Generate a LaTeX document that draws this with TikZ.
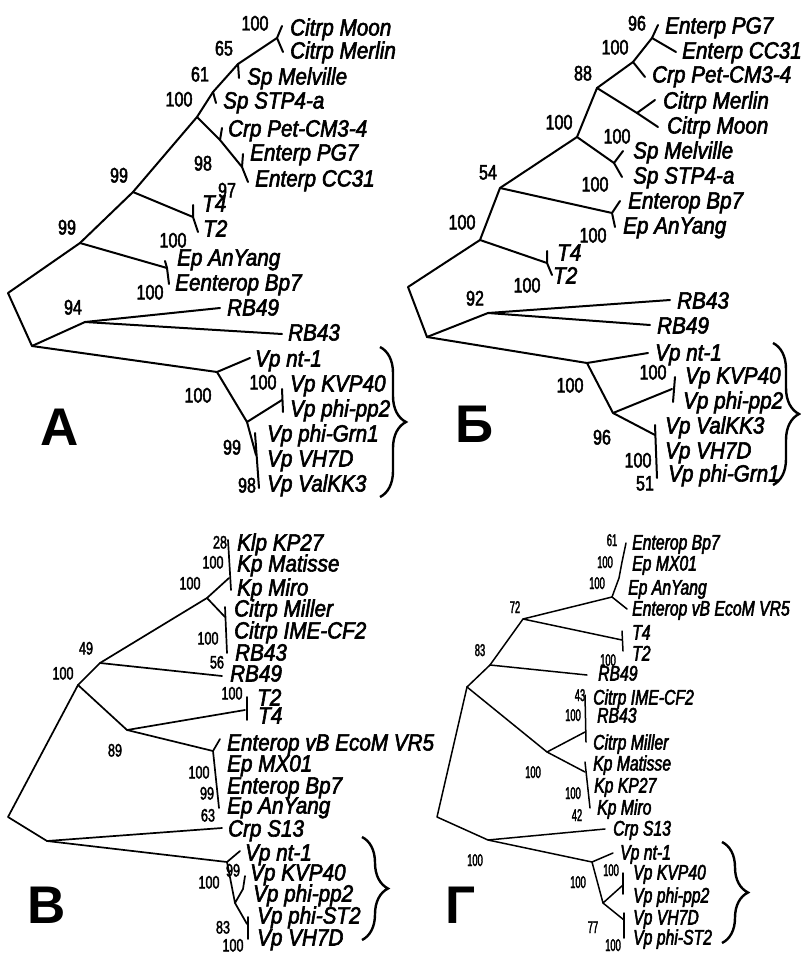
\documentclass[tikz,border=0pt]{standalone}
\usepackage{fontspec}
\usetikzlibrary{decorations.pathreplacing}
\newfontfamily\labfont[FakeStretch=0.88,FakeBold=2.5]{Liberation Sans}
\newfontfamily\labfontg[FakeStretch=0.75,FakeBold=2.5]{Liberation Sans}
\newfontfamily\numfonta[FakeStretch=0.77,FakeBold=2.2]{Liberation Sans}
\newfontfamily\numfontb[FakeStretch=0.7,FakeBold=2]{Liberation Sans}
\newfontfamily\numfontg[FakeStretch=0.55,FakeBold=2]{Liberation Sans}
\newfontfamily\ttlfont{Liberation Sans}
\tikzset{
  tree/.style={line width=2pt, line join=round, line cap=round},
  treeb/.style={line width=1.7pt, line join=round, line cap=round},
  treeg/.style={line width=1.5pt, line join=round, line cap=round},
  taxon/.style={font=\labfont\fontsize{23.5}{24}\selectfont\itshape, anchor=west, inner sep=0pt, text height=17pt, text depth=0pt},
  taxong/.style={font=\labfontg\fontsize{21}{21}\selectfont\itshape, anchor=west, inner sep=0pt, text height=15pt, text depth=0pt},
  bsa/.style={font=\numfonta\fontsize{21}{21}\selectfont, inner sep=0pt, text height=15pt, text depth=0pt},
  bsb/.style={font=\numfontb\fontsize{18}{18}\selectfont, inner sep=0pt, text height=13pt, text depth=0pt},
  bsg/.style={font=\numfontg\fontsize{17}{17}\selectfont, inner sep=0pt, text height=12pt, text depth=0pt},
  panel/.style={font=\ttlfont\bfseries\fontsize{53}{53}\selectfont, inner sep=0pt, text height=38pt, text depth=0pt},
  clade/.style={decorate, decoration={brace, amplitude=26pt}, line width=2.4pt},
}
\begin{document}
\begin{tikzpicture}[x=1pt, y=-1pt]
\useasboundingbox (0,0) rectangle (800,955);

% ---------------- Panel A ----------------
\foreach \n/\x/\y in {a0/8/293, a1/80/243, a2/32/346, a3/85/322, aRBa/220/308, aRBb/282/334,
  a4/217/372, a5/133/192, aEp/167/268, aEpa/165/261, aEpb/169/284, a6/197/117,
  aT/193/217, aTa/193/205, aTb/198/232, a7/213/92, a7s/216/103, a8/238/64, a8s/239/78,
  aCi/277/38, aCia/282/26, aCib/283/52, a9/220/140, a9s/222/128, a10/242/167, a10s/243/154,
  aCC/248/182, aNt/250/358, a11/247/422, aKV/282/400, aKVa/282/389, aKVb/283/412,
  a12/256/455, aVa/255/433, aVb/259/488}
  \coordinate (\n) at (\x,\y);
\draw[tree] (a1) -- (a0) -- (a2) -- (a3) -- (aRBa);
\draw[tree] (a3) -- (aRBb);
\draw[tree] (a2) -- (a4) -- (aNt);
\draw[tree] (a4) -- (a11) -- (aKV);
\draw[tree] (aKVa) -- (aKVb);
\draw[tree] (a11) -- (a12);
\draw[tree] (aVa) -- (aVb);
\draw[tree] (a1) -- (aEp);
\draw[tree] (aEpa) -- (aEp) -- (aEpb);
\draw[tree] (a1) -- (a5) -- (aT);
\draw[tree] (aTa) -- (aT) -- (aTb);
\draw[tree] (a5) -- (a6) -- (a7) -- (a8) -- (aCi);
\draw[tree] (a7) -- (a7s);
\draw[tree] (a8) -- (a8s);
\draw[tree] (aCia) -- (aCi) -- (aCib);
\draw[tree] (a6) -- (a9) -- (a10) -- (aCC);
\draw[tree] (a9) -- (a9s);
\draw[tree] (a10) -- (a10s);

\foreach \n/\x/\y/\t in {tA1/290/27/Citrp Moon, tA2/290/50/Citrp Merlin, tA3/247/76/Sp Melville,
  tA4/223/100/Sp STP4-a, tA5/228/128/Crp Pet-CM3-4, tA6/250/152/Enterp PG7,
  tA7/255/178/Enterp CC31, tA8/202/203/T4, tA9/203/228/T2, tA10/177/257/Ep AnYang,
  tA11/175/282/Eenterop Bp7, tA12/227/307/RB49, tA13/288/332/RB43, tA14/255/358/Vp nt-1,
  tA15/290/383/Vp KVP40, tA16/290/408/Vp phi-pp2, tA17/267/433/Vp phi-Grn1,
  tA18/267/458/Vp VH7D, tA19/267/483/Vp ValKK3}
  \node[taxon] (\n) at (\x,\y) {\t};

\foreach \x/\y/\t [count=\i] in {255/23/100, 224/48/65, 200/74/61, 179/99/100, 203/163/98,
  119/175/99, 227/190/97, 67/227/99, 173/240/100, 150/292/100, 73/307/94, 198/395/100,
  263/382/100, 232/447/99, 247/485/98}
  \node[bsa] (bsA\i) at (\x,\y) {\t};

\coordinate (brA1) at (380,347);
\coordinate (brA2) at (380,497);
\draw[clade] (brA1) -- (brA2);
\node[panel] (pA) at (60,426) {А};

% ---------------- Panel B (Cyrillic Be) ----------------
\foreach \n/\x/\y in {c0/408/287, c1/480/240, c2/427/337, cT/547/263, cTa/547/251, cTb/552/275,
  c3/500/188, cEp/612/213, cEpa/620/201, cEpb/615/227, c4/577/137, cSp/614/163,
  cSpa/623/151, cSpb/622/177, c5/597/88, cCi/637/113, cCia/655/100, cCib/658/127,
  c6/633/62, cCr/645/77, c7/652/38, cPG/658/25, cCC/676/52, cRB/488/313,
  cRBa/670/300, cRBb/650/325, cVp/587/363, cNt/648/353, c8/613/413, cKV/672/389,
  cKVa/675/377, cKVb/673/402, c9/655/435, cVa/655/425, cVb/657/478}
  \coordinate (\n) at (\x,\y);
\draw[tree] (c1) -- (c0) -- (c2) -- (cRB) -- (cRBa);
\draw[tree] (cRB) -- (cRBb);
\draw[tree] (c2) -- (cVp) -- (cNt);
\draw[tree] (cVp) -- (c8) -- (cKV);
\draw[tree] (cKVa) -- (cKVb);
\draw[tree] (c8) -- (c9);
\draw[tree] (cVa) -- (cVb);
\draw[tree] (c1) -- (cT);
\draw[tree] (cTa) -- (cT) -- (cTb);
\draw[tree] (c1) -- (c3) -- (cEp);
\draw[tree] (cEpa) -- (cEp) -- (cEpb);
\draw[tree] (c3) -- (c4) -- (cSp);
\draw[tree] (cSpa) -- (cSp) -- (cSpb);
\draw[tree] (c4) -- (c5) -- (cCi);
\draw[tree] (cCia) -- (cCi) -- (cCib);
\draw[tree] (c5) -- (c6) -- (cCr);
\draw[tree] (c6) -- (c7);
\draw[tree] (cPG) -- (c7) -- (cCC);

\foreach \n/\x/\y/\t in {tB1/665/25/Enterp PG7, tB2/682/50/Enterp CC31, tB3/652/74/Crp Pet-CM3-4,
  tB4/663/100/Citrp Merlin, tB5/667/125/Citrp Moon, tB6/633/150/Sp Melville,
  tB7/633/175/Sp STP4-a, tB8/628/200/Enterop Bp7, tB9/623/225/Ep AnYang,
  tB10/557/252/T4, tB11/553/275/T2, tB12/677/300/RB43, tB13/657/325/RB49,
  tB14/655/352/Vp nt-1, tB15/685/375/Vp KVP40, tB16/683/400/Vp phi-pp2,
  tB17/665/425/Vp ValKK3, tB18/665/450/Vp VH7D, tB19/668/473/Vp phi-Grn1}
  \node[taxon] (\n) at (\x,\y) {\t};

\foreach \x/\y/\t [count=\i] in {637/23/96, 615/47/100, 583/73/88, 559/122/100, 617/136/100,
  488/172/54, 595/184/100, 462/222/100, 593/235/100, 527/285/100, 475/298/92,
  653/372/100, 570/385/100, 602/437/96, 638/460/100, 645/483/51}
  \node[bsa] (bsB\i) at (\x,\y) {\t};

\coordinate (brB1) at (773,343);
\coordinate (brB2) at (773,485);
\draw[clade] (brB1) -- (brB2);
\node[panel] (pB) at (475,423) {Б};

% ---------------- Panel V (Cyrillic Ve) ----------------
\foreach \n/\x/\y in {b0/8/817, b1/78/685, b2/100/663, b3/207/598, bKP/229/578, bKPa/228/540,
  bKPb/231/590, bCi/225/617, bCia/225/607, bCib/227/653, bRB/222/676, b4/127/730,
  bT/245/710, bTa/247/697, bTb/247/720, bEn/213/751, bEna/220/739, bEnb/219/808,
  b5/47/841, bCr/222/828, bVp/227/862, bNt/240/851, b6/235/903, bKV/243/889,
  bKVa/245/876, b7/247/924, bVa/248/917, bVb/248/939}
  \coordinate (\n) at (\x,\y);
\draw[treeb] (b1) -- (b0) -- (b5) -- (bCr);
\draw[treeb] (b5) -- (bVp) -- (bNt);
\draw[treeb] (bVp) -- (b6) -- (bKV) -- (bKVa);
\draw[treeb] (b6) -- (b7);
\draw[treeb] (bVa) -- (bVb);
\draw[treeb] (b1) -- (b2) -- (bRB);
\draw[treeb] (b2) -- (b3) -- (bKP);
\draw[treeb] (bKPa) -- (bKPb);
\draw[treeb] (b3) -- (bCi);
\draw[treeb] (bCia) -- (bCib);
\draw[treeb] (b1) -- (b4) -- (bT);
\draw[treeb] (bTa) -- (bTb);
\draw[treeb] (b4) -- (bEn);
\draw[treeb] (bEna) -- (bEn) -- (bEnb);

\foreach \n/\x/\y/\t in {tV1/237/542/Klp KP27, tV2/237/563/Kp Matisse, tV3/237/587/Kp Miro,
  tV4/234/608/Citrp Miller, tV5/234/630/Citrp IME-CF2, tV6/235/652/RB43, tV7/230/673/RB49,
  tV8/257/697/T2, tV9/258/715/T4, tV10/227/742/Enterop vB EcoM VR5, tV11/227/763/Ep MX01,
  tV12/227/785/Enterop Bp7, tV13/227/805/Ep AnYang, tV14/228/828/Crp S13,
  tV15/245/852/Vp nt-1, tV16/250/872/Vp KVP40, tV17/253/893/Vp phi-pp2,
  tV18/257/915/Vp phi-ST2, tV19/257/937/Vp VH7D}
  \node[taxon] (\n) at (\x,\y) {\t};

\foreach \x/\y/\t [count=\i] in {220/542/28, 213/562/100, 190/583/100, 208/638/100, 86/648/49,
  217/662/56, 63/673/100, 232/693/100, 115/750/89, 199/772/100, 207/793/99, 208/815/63,
  233/870/99, 209/882/100, 223/927/83, 233/945/100}
  \node[bsb] (bsV\i) at (\x,\y) {\t};

\coordinate (brV1) at (362,837);
\coordinate (brV2) at (362,940);
\draw[clade] (brV1) -- (brV2);
\node[panel] (pV) at (47,904) {В};

% ---------------- Panel G (Cyrillic Ge) ----------------
\foreach \n/\x/\y in {g0/437/817, g1/467/687, g2/490/665, g3/523/619, gEn/612/597, gE2/619/578,
  gE3/622/562, gE4/626/543, gVR/627/609, gT/622/640, gTa/622/631, gTb/623/651,
  gRB/587/675, g4/547/752, gCi/585/732, gCia/585/695, gCib/586/742, gKp/585/772,
  gKpa/585/762, gKpb/590/808, g5/488/840, gCr/605/829, gVp/592/862, gNt/613/853,
  g6/603/903, gKV/623/885, gKVa/623/873, gKVb/623/894, gVH/624/920, gVHa/624/913,
  gVHb/624/938}
  \coordinate (\n) at (\x,\y);
\draw[treeg] (g1) -- (g0) -- (g5) -- (gCr);
\draw[treeg] (g5) -- (gVp) -- (gNt);
\draw[treeg] (gVp) -- (g6) -- (gKV);
\draw[treeg] (gKVa) -- (gKVb);
\draw[treeg] (g6) -- (gVH);
\draw[treeg] (gVHa) -- (gVHb);
\draw[treeg] (g1) -- (g2) -- (gRB);
\draw[treeg] (g2) -- (g3) -- (gEn) -- (gE2) -- (gE3) -- (gE4);
\draw[treeg] (gEn) -- (gVR);
\draw[treeg] (g3) -- (gT);
\draw[treeg] (gTa) -- (gTb);
\draw[treeg] (g1) -- (g4) -- (gCi);
\draw[treeg] (gCia) -- (gCib);
\draw[treeg] (g4) -- (gKp);
\draw[treeg] (gKpa) -- (gKpb);

\foreach \n/\x/\y/\t in {tG1/632/542/Enterop Bp7, tG2/632/563/Ep MX01, tG3/628/587/Ep AnYang,
  tG4/632/608/Enterop vB EcoM VR5, tG5/632/632/T4, tG6/632/653/T2, tG7/598/673/RB49,
  tG8/593/697/Citrp IME-CF2, tG9/597/715/RB43, tG10/593/742/Citrp Miller,
  tG11/593/763/Kp Matisse, tG12/594/785/Kp KP27, tG13/597/807/Kp Miro,
  tG14/613/828/Crp S13, tG15/620/852/Vp nt-1, tG16/633/872/Vp KVP40,
  tG17/633/895/Vp phi-pp2, tG18/633/917/Vp VH7D, tG19/633/937/Vp phi-ST2}
  \node[taxong] (\n) at (\x,\y) {\t};

\foreach \x/\y/\t [count=\i] in {612/540/61, 605/562/100, 597/583/100, 515/607/72, 480/650/83,
  608/660/100, 580/695/43, 573/715/100, 533/772/100, 573/793/100, 577/815/42,
  475/860/100, 611/870/100, 578/882/100, 593/927/77, 613/945/100}
  \node[bsg] (bsG\i) at (\x,\y) {\t};

\coordinate (brG1) at (722,842);
\coordinate (brG2) at (722,943);
\draw[clade] (brG1) -- (brG2);
\node[panel] (pG) at (461,904) {Г};
\end{tikzpicture}
\end{document}
